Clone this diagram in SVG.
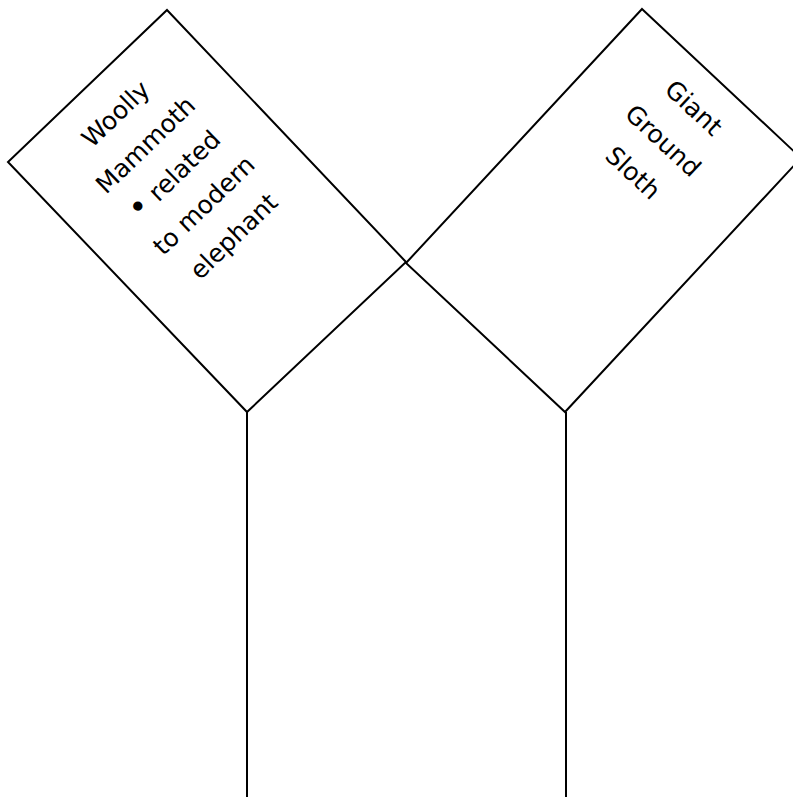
<svg xmlns="http://www.w3.org/2000/svg" width="793" height="797" viewBox="0 0 793 797">
<style>
.box{fill:#ffffff;stroke:#000000;stroke-width:2;stroke-linejoin:miter}
.conn{fill:none;stroke:#000000;stroke-width:2}
.lbl{font-family:"DejaVu Sans","Liberation Sans",sans-serif;font-size:25px;fill:#000000;text-anchor:middle}
.bul{font-size:32px}
</style>
<rect x="0" y="0" width="793" height="797" fill="#ffffff"/>
<g id="connectors">
<line class="conn" x1="247" y1="412" x2="247" y2="797"/>
<line class="conn" x1="566" y1="412" x2="566" y2="797"/>
</g>
<g id="node-mammoth">
<polygon class="box" points="167,10 406,262 247,412 8,162"/>
<g transform="translate(207,211.5) rotate(-44)">
<text class="lbl" x="2" y="-125">Woolly</text>
<text class="lbl" x="2" y="-82">Mammoth</text>
<text class="lbl" x="2" y="-40"><tspan class="bul">•</tspan> related</text>
<text class="lbl" x="2" y="2">to modern</text>
<text class="lbl" x="2" y="45">elephant</text>
</g>
</g>
<g id="node-sloth">
<polygon class="box" points="642,9 801,158 565,412 406,263"/>
<g transform="translate(603.5,210.5) rotate(43)">
<text class="lbl" x="-4" y="-128">Giant</text>
<text class="lbl" x="-4" y="-83">Ground</text>
<text class="lbl" x="-4" y="-39">Sloth</text>
</g>
</g>
</svg>
